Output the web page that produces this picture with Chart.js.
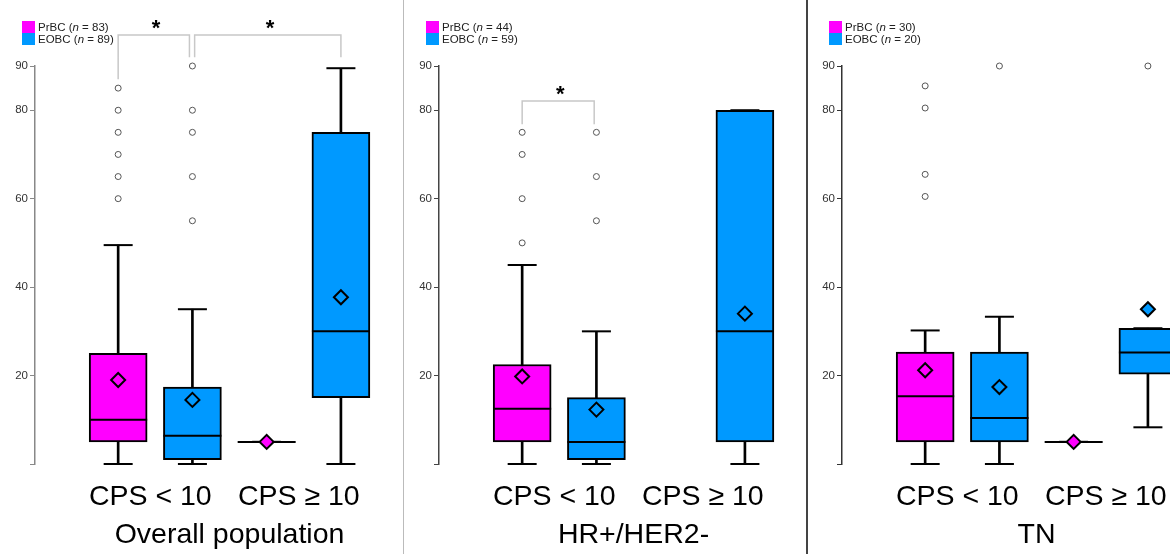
<!DOCTYPE html>
<html>
<head>
<meta charset="utf-8">
<title>CPS by group</title>
<script src="https://cdn.jsdelivr.net/npm/chart.js@4"></script>
<style>
  body { margin: 0; width: 1170px; height: 554px; overflow: hidden; background: #fff; font-family: 'Liberation Sans', Arial, sans-serif; }
  .panel { position: absolute; top: 0; width: 430px; height: 554px; }
  .legend { position: absolute; left: 22px; top: 21px; font-size: 11.5px; color: #222; }
  .legend div { height: 12px; line-height: 12px; white-space: nowrap; }
  .legend .sw { display: inline-block; width: 13px; height: 12px; vertical-align: top; margin-right: 3px; }
  .sep { position: absolute; top: 0; height: 554px; }
</style>
</head>
<body>
<div class="panel" id="p0" style="left:0"><canvas id="c0" width="430" height="554"></canvas></div>
<div class="panel" id="p1" style="left:404px"><canvas id="c1" width="430" height="554"></canvas></div>
<div class="panel" id="p2" style="left:807px"><canvas id="c2" width="430" height="554"></canvas></div>
<div class="sep" style="left:403px;width:1px;background:#bbb"></div>
<div class="sep" style="left:806px;width:1.5px;background:#444"></div>
<script>
const panelTitles = ['Overall population', 'HR+/HER2-', 'TN'];
const categories = ['CPS < 10', 'CPS ≥ 10'];
const groupNames = ['PrBC', 'EOBC'];
const prbcN = [83, 44, 30];
const eobcN = [89, 59, 20];
const yTicks = [0, 20, 40, 60, 80, 90];

// [min, q1, median, q3, max] per category; null = no patients
const prbcBox = [
    [[0, 5, 10, 25, 49.5], [5, 5, 5, 5, 5]],
    [[0, 5, 12.5, 22.5, 45], null],
    [[0, 5, 15.3, 25.3, 30.2], [5, 5, 5, 5, 5]]
];
const eobcBox = [
    [[0, 1, 6.4, 17.4, 35], [0, 15, 30, 75, 89.5]],
    [[0, 1, 5, 15, 30], [0, 5, 30, 80, 80]],
    [[0, 5, 10.4, 25.3, 33.3], [8.3, 20.3, 25.2, 30.7, 30.7]]
];
const prbcMean = [[19, 5], [19.8, null], [21.2, 5]];
const eobcMean = [[14.5, 37.7], [12.3, 34], [17.4, 35]];
const prbcOutliers = [
    [[60, 65, 70, 75, 80, 85], []],
    [[50, 60, 70, 75], []],
    [[60.5, 65.5, 80.5, 85.5], []]
];
const eobcOutliers = [
    [[55, 65, 75, 80, 90], []],
    [[55, 65, 75], []],
    [[90], [90]]
];
// significance brackets: [xFrom, xTo, leftLegEnd, rightLegEnd, top]
const brackets = [
    [[0.75, 1.23, 87, 92, 97], [1.265, 2.25, 92, 92, 97]],
    [[0.75, 1.235, 76.8, 76.8, 82.1]],
    []
];

const colors = ['#FF00FF', '#0099FF'];
const axisColors = ['#888', '#444', '#333'];
const FONT = "'Liberation Sans', Arial, sans-serif";

const starPlugin = {
    id: 'stars',
    afterDatasetsDraw(chart, args, opts) {
        const ctx = chart.ctx, xs = chart.scales.x, ys = chart.scales.y;
        ctx.save();
        ctx.font = 'bold 22px ' + FONT;
        ctx.textAlign = 'center';
        ctx.textBaseline = 'middle';
        ctx.fillStyle = '#000';
        (opts.items || []).forEach(b => {
            ctx.fillText('*', xs.getPixelForValue((b[0] + b[1]) / 2 + 0.015), ys.getPixelForValue(b[4] + 1.4));
        });
        ctx.restore();
    }
};

function buildDatasets(p) {
    const boxes = [prbcBox[p], eobcBox[p]];
    const means = [prbcMean[p], eobcMean[p]];
    const outs = [prbcOutliers[p], eobcOutliers[p]];
    const ds = [];
    for (let g = 0; g < 2; g++) {
        const whisk = [], box = [], caps = [], med = [], mean = [], out = [];
        for (let c = 0; c < categories.length; c++) {
            const b = boxes[g][c];
            if (!b) continue;
            const x = c + 1 + (g === 0 ? -0.25 : 0.25);
            whisk.push({x: x, y: [b[0], b[4]]});
            box.push({x: x, y: [b[1], b[3]]});
            caps.push({x: x, y: b[0]}, {x: x, y: b[4]});
            med.push({x: x, y: b[2]});
            if (means[g][c] != null) mean.push({x: x, y: means[g][c]});
            outs[g][c].forEach(v => out.push({x: x, y: v}));
        }
        ds.push({type: 'bar', data: whisk, grouped: false, barThickness: 2, backgroundColor: '#000', borderWidth: 0, order: 6});
        ds.push({type: 'bar', label: groupNames[g], data: box, grouped: false, barThickness: 58, backgroundColor: colors[g],
            borderColor: '#000', borderWidth: 2, borderSkipped: false, order: 5});
        ds.push({type: 'scatter', data: caps, pointStyle: 'line', pointRadius: 14.5, pointBorderColor: '#000', pointBorderWidth: 2, clip: false, order: 4});
        ds.push({type: 'scatter', data: med, pointStyle: 'line', pointRadius: 29, pointBorderColor: '#000', pointBorderWidth: 2, clip: false, order: 3});
        ds.push({type: 'scatter', data: mean, pointStyle: 'rectRot', pointRadius: 7, pointBackgroundColor: colors[g],
            pointBorderColor: '#000', pointBorderWidth: 2, clip: false, order: 2});
        ds.push({type: 'scatter', data: out, pointStyle: 'circle', pointRadius: 3, pointBackgroundColor: '#fff',
            pointBorderColor: '#555', pointBorderWidth: 1, clip: false, order: 1});
    }
    brackets[p].forEach(b => {
        ds.push({type: 'scatter', showLine: true, data: [{x: b[0], y: b[2]}, {x: b[0], y: b[4]}, {x: b[1], y: b[4]}, {x: b[1], y: b[3]}],
            borderColor: '#c8c8c8', borderWidth: 1.5, pointRadius: 0, clip: false, order: 0});
    });
    return ds;
}

for (let p = 0; p < 3; p++) {
    const leg = document.createElement('div');
    leg.className = 'legend';
    const ns = [prbcN[p], eobcN[p]];
    leg.innerHTML = groupNames.map((g, i) =>
        '<div><span class="sw" style="background:' + colors[i] + '"></span>' + g + ' (<i>n</i> = ' + ns[i] + ')</div>').join('');
    document.getElementById('p' + p).appendChild(leg);

    new Chart(document.getElementById('c' + p), {
        type: 'bar',
        data: {datasets: buildDatasets(p)},
        plugins: [starPlugin],
        options: {
            responsive: false,
            animation: false,
            events: [],
            layout: {autoPadding: false, padding: {top: 66, right: 6, bottom: 0, left: 0}},
            plugins: {
                legend: {display: false},
                tooltip: {enabled: false},
                stars: {items: brackets[p]}
            },
            scales: {
                x: {
                    type: 'linear', min: 0.19, max: 2.8095, offset: false,
                    grid: {display: false, drawTicks: false}, border: {display: false},
                    afterBuildTicks: s => { s.ticks = categories.map((c, i) => ({value: i + 1})); },
                    afterFit: s => { s.paddingLeft = 0; s.paddingRight = 0; s.height = 90; },
                    ticks: {callback: v => categories[v - 1] || '', color: '#000', font: {family: FONT, size: 28.5},
                        padding: 16, labelOffset: -5, maxRotation: 0, autoSkip: false},
                    title: {display: true, text: panelTitles[p], color: '#000',
                        font: {family: FONT, size: 28.5}, padding: {top: 0, bottom: 2}}
                },
                y: {
                    min: 0, max: 90,
                    afterBuildTicks: s => { s.ticks = yTicks.map(v => ({value: v})); },
                    afterFit: s => { s.width = 35; },
                    grid: {drawOnChartArea: false, drawTicks: true, tickLength: 5, color: axisColors[p]},
                    border: {display: true, color: axisColors[p], width: 1.5},
                    ticks: {callback: v => v === 0 ? '' : v, color: '#333', font: {family: FONT, size: 11.5}, padding: 2}
                }
            }
        }
    });
}
</script>
</body>
</html>
